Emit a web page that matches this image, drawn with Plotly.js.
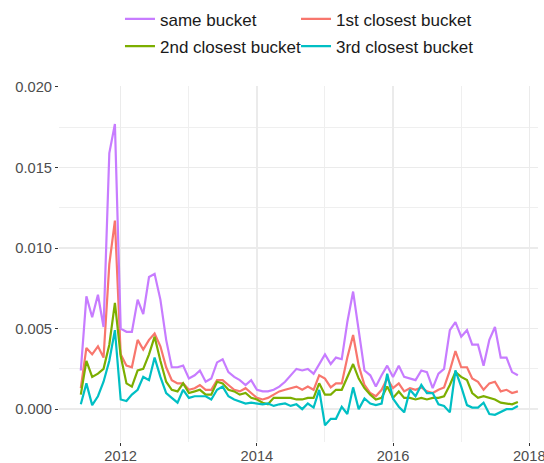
<!DOCTYPE html>
<html>
<head>
<meta charset="utf-8">
<script src="https://cdn.plot.ly/plotly-3.0.1.min.js"></script>
<style>html,body{margin:0;padding:0;background:#fff;}#chart{width:544px;height:463px;}</style>
</head>
<body>
<div id="chart"></div>
<script>
var months = [
 '2011-06','2011-07','2011-08','2011-09','2011-10','2011-11','2011-12',
 '2012-01','2012-02','2012-03','2012-04','2012-05','2012-06','2012-07','2012-08','2012-09','2012-10','2012-11','2012-12',
 '2013-01','2013-02','2013-03','2013-04','2013-05','2013-06','2013-07','2013-08','2013-09','2013-10','2013-11','2013-12',
 '2014-01','2014-02','2014-03','2014-04','2014-05','2014-06','2014-07','2014-08','2014-09','2014-10','2014-11','2014-12',
 '2015-01','2015-02','2015-03','2015-04','2015-05','2015-06','2015-07','2015-08','2015-09','2015-10','2015-11','2015-12',
 '2016-01','2016-02','2016-03','2016-04','2016-05','2016-06','2016-07','2016-08','2016-09','2016-10','2016-11','2016-12',
 '2017-01','2017-02','2017-03','2017-04','2017-05','2017-06','2017-07','2017-08','2017-09','2017-10','2017-11'
];

var sameBucket = [
 0.0024, 0.0070, 0.0057, 0.0071, 0.0051, 0.0159, 0.0177, 0.0050, 0.0048, 0.0048,
 0.0068, 0.0059, 0.0082, 0.0084, 0.0068, 0.0043, 0.0026, 0.0026, 0.0027, 0.0019,
 0.0021, 0.0024, 0.0017, 0.0019, 0.0029, 0.0031, 0.0023, 0.0020, 0.0018, 0.0015,
 0.0018, 0.0012, 0.0011, 0.0011, 0.0012, 0.0014, 0.0017, 0.0021, 0.0025, 0.0024,
 0.0025, 0.0022, 0.0028, 0.0034, 0.0028, 0.0032, 0.0031, 0.0054, 0.0073, 0.0048,
 0.0024, 0.0021, 0.0014, 0.0021, 0.0027, 0.0020, 0.0027, 0.0020, 0.0019, 0.0018,
 0.0024, 0.0023, 0.0013, 0.0022, 0.0025, 0.0049, 0.0054, 0.0045, 0.0049, 0.0040,
 0.0040, 0.0027, 0.0043, 0.0051, 0.0032, 0.0032, 0.0023, 0.0021
];

var closest1 = [
 0.0013, 0.0038, 0.0034, 0.0039, 0.0032, 0.0090, 0.0117, 0.0034, 0.0027, 0.0026,
 0.0043, 0.0037, 0.0043, 0.0047, 0.0039, 0.0026, 0.0018, 0.0016, 0.0016, 0.0012,
 0.0013, 0.0015, 0.0012, 0.0012, 0.0018, 0.0018, 0.0015, 0.0012, 0.0011, 0.0013,
 0.0010, 0.0007, 0.0006, 0.0007, 0.0009, 0.0011, 0.0012, 0.0013, 0.0014, 0.0012,
 0.0014, 0.0012, 0.0021, 0.0019, 0.00135, 0.0016, 0.0016, 0.0032, 0.0046, 0.0027,
 0.0015, 0.0010, 0.0008, 0.0012, 0.0019, 0.0013, 0.0016, 0.0011, 0.0013, 0.0012,
 0.00135, 0.0011, 0.0010, 0.0012, 0.00135, 0.0024, 0.0036, 0.0026, 0.0026, 0.0019,
 0.0017, 0.0012, 0.0016, 0.0017, 0.0011, 0.0012, 0.0010, 0.0011
];

var closest2 = [
 0.0009, 0.0030, 0.0020, 0.0022, 0.0025, 0.0040, 0.0066, 0.0033, 0.0016, 0.0014,
 0.0024, 0.0025, 0.0034, 0.0045, 0.0030, 0.0017, 0.0012, 0.0011, 0.0016, 0.0010,
 0.0011, 0.0012, 0.0009, 0.0009, 0.0017, 0.0016, 0.0012, 0.0011, 0.0009, 0.0010,
 0.0007, 0.0006, 0.0004, 0.0003, 0.0007, 0.0007, 0.0007, 0.0007, 0.0006, 0.0006,
 0.0007, 0.0007, 0.0016, 0.0009, 0.0009, 0.0012, 0.0012, 0.0020, 0.0028, 0.0019,
 0.0013, 0.0009, 0.0006, 0.0007, 0.0014, 0.0007, 0.0011, 0.0007, 0.0007, 0.0006,
 0.0007, 0.0006, 0.0007, 0.0007, 0.0008, 0.0015, 0.0023, 0.0020, 0.0018, 0.0010,
 0.0007, 0.0008, 0.0007, 0.0006, 0.0004, 0.00035, 0.0003, 0.00045
];

var closest3 = [
 0.0003, 0.0016, 0.00025, 0.0008, 0.0017, 0.0030, 0.0049, 0.0006, 0.0005, 0.0009,
 0.0012, 0.0020, 0.0018, 0.0032, 0.0020, 0.0010, 0.0007, 0.0004, 0.0012, 0.0007,
 0.0008, 0.0008, 0.0008, 0.0006, 0.0012, 0.0014, 0.0008, 0.0006, 0.0005, 0.00035,
 0.0004, 0.00035, 0.0003, 0.00035, 0.0002, 0.0003, 0.00035, 0.0002, 0.0003, 0.0000,
 0.00035, 0.0001, 0.0012, -0.0010, -0.0006, -0.0006, 0.00015, -0.0003, 0.00135, 0.0000,
 0.00066, 0.00035, 0.00025, 0.00035, 0.0022, 0.00066, 0.00015, -0.0002, 0.0012, 0.0008,
 0.0015, 0.0010, 0.0010, 0.0003, 0.0002, -0.0002, 0.0024, 0.0014, 0.00025, 0.0001,
 0.0001, 0.0004, -0.0003, -0.00035, -0.0002, 0.0000, 0.0000, 0.0002
];

// drawing order (ggplot level order): 1st, 2nd, 3rd, same (on top)
var seriesNames = ['1st closest bucket', '2nd closest bucket', '3rd closest bucket', 'same bucket'];
var allSeries = [closest1, closest2, closest3, sameBucket];
var colors = ['#F8766D', '#7CAE00', '#00BFC4', '#C77CFF'];
var legendIds = ['legend2', 'legend', 'legend2', 'legend'];
var legendRanks = [1, 2, 2, 1];

var traces = allSeries.map(function (vals, k) {
  return {
    type: 'scatter', mode: 'lines',
    x: months, y: vals, name: seriesNames[k],
    legend: legendIds[k], legendrank: legendRanks[k], legendgroup: 'g' + k,
    line: {color: colors[k], width: 2.2}
  };
});

var font = '"Liberation Sans", Arial, Helvetica, sans-serif';
var legendFont = {size: 17, color: '#1a1a1a', family: font};
var layout = {
  width: 544, height: 463,
  margin: {l: 59, r: 6, t: 86, b: 21, pad: 0, autoexpand: false},
  paper_bgcolor: '#ffffff', plot_bgcolor: '#ffffff',
  font: {family: font, color: '#4D4D4D'},
  showlegend: true,
  legend: {
    orientation: 'v', x: 0.1273, xanchor: 'left', y: 1.2376, yanchor: 'top',
    font: legendFont, traceorder: 'grouped', tracegroupgap: 2, bgcolor: 'rgba(0,0,0,0)'
  },
  legend2: {
    orientation: 'v', x: 0.4948, xanchor: 'left', y: 1.2376, yanchor: 'top',
    font: legendFont, traceorder: 'grouped', tracegroupgap: 2, bgcolor: 'rgba(0,0,0,0)'
  },
  xaxis: {
    type: 'date', range: ['2011-02-04', '2018-02-17'],
    tick0: '2012-01-01', dtick: 'M24', tickformat: '%Y',
    ticks: 'outside', ticklen: 3, tickwidth: 1, tickcolor: '#333333',
    ticklabeloverflow: 'allow', ticklabelstandoff: -3,
    showline: false, zeroline: false,
    showgrid: true, gridcolor: '#EBEBEB', gridwidth: 1.4,
    minor: {tick0: '2011-01-01', dtick: 'M12', showgrid: true, gridcolor: '#EFEFEF', gridwidth: 1, ticks: ''},
    tickfont: {size: 14.7, color: '#4D4D4D', family: font}
  },
  yaxis: {
    range: [-0.00204, 0.02006], tick0: 0, dtick: 0.005, tickformat: '.3f',
    ticks: 'outside', ticklen: 3, tickwidth: 1, tickcolor: '#333333',
    showline: false, zeroline: false,
    showgrid: true, gridcolor: '#EBEBEB', gridwidth: 1.4,
    minor: {tick0: 0, dtick: 0.0025, showgrid: true, gridcolor: '#EFEFEF', gridwidth: 1, ticks: ''},
    tickfont: {size: 14.7, color: '#4D4D4D', family: font}
  }
};

Plotly.newPlot('chart', traces, layout, {displayModeBar: false, staticPlot: true});
</script>
</body>
</html>
